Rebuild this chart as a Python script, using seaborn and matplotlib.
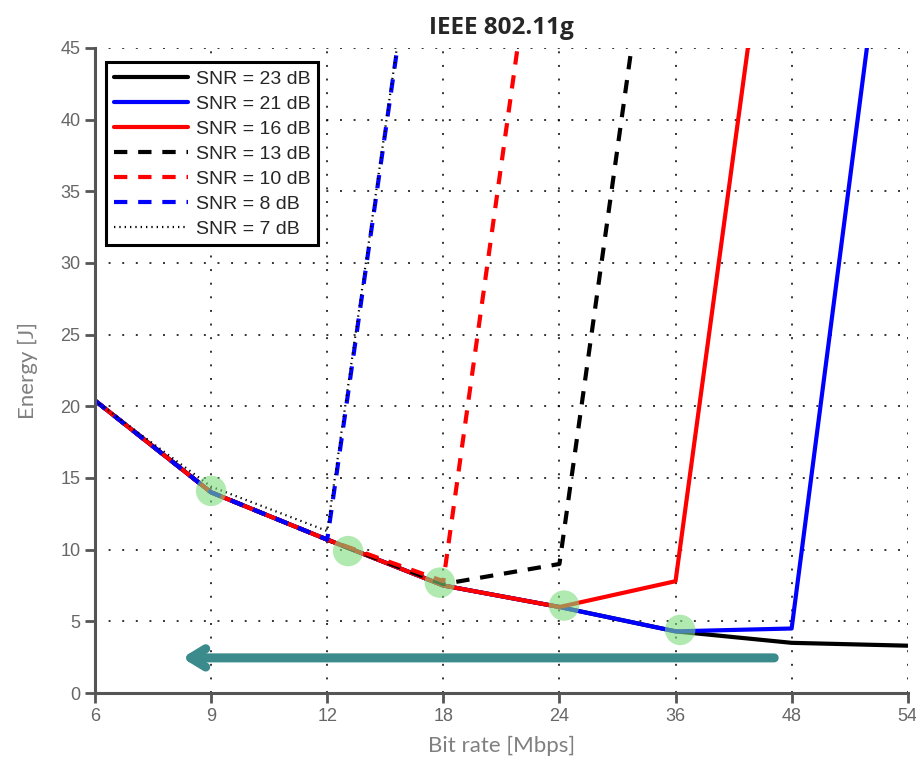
"""IEEE 802.11g energy vs bit rate for several SNR levels."""

import matplotlib
matplotlib.use("Agg")
import matplotlib.pyplot as plt
import pandas as pd
import seaborn as sns

bit_rates = ["6", "9", "12", "18", "24", "36", "48", "54"]

snr_23 = [20.4, 14.0, 10.7, 7.5, 6.0, 4.3, 3.5, 3.3]
snr_21 = [20.4, 14.0, 10.7, 7.5, 6.0, 4.3, 4.5, 67.0]
snr_16 = [20.4, 14.0, 10.7, 7.5, 6.0, 7.8, 67.5]
snr_13 = [20.4, 14.0, 10.7, 7.6, 9.0, 67.0]
snr_10 = [20.4, 14.0, 10.7, 7.8, 66.0]
snr_8 = [20.4, 14.0, 10.7, 67.5]
snr_7 = [20.4, 14.4, 11.3, 67.5]

labels = ["SNR = 23 dB", "SNR = 21 dB", "SNR = 16 dB", "SNR = 13 dB",
          "SNR = 10 dB", "SNR = 8 dB", "SNR = 7 dB"]
series = [snr_23, snr_21, snr_16, snr_13, snr_10, snr_8, snr_7]
colors = ["black", "#0000ff", "#ff0000", "black", "#ff0000", "#0000ff", "black"]
styles = ["-", "-", "-", (0, (3.2, 2.6)), (0, (3.2, 2.6)), (0, (3.2, 2.6)), (0, (0.6, 1.8))]
widths = [3.0, 3.0, 3.0, 3.0, 3.0, 3.0, 1.6]

# optimum points (x in tick-index units)
opt_x = [1.0, 2.18, 2.97, 4.04, 5.04]
opt_y = [14.1, 9.9, 7.7, 6.1, 4.4]

sns.set_theme(style="white")
plt.rcParams["font.family"] = ["Liberation Sans", "DejaVu Sans"]

fig = plt.figure(figsize=(9.16, 7.7), dpi=100)
ax = fig.add_axes([0.1037, 0.1, 0.8873, 0.8377])

for lab, vals, col, ls, lw in zip(labels, series, colors, styles, widths):
    df = pd.DataFrame({"x": range(len(vals)), "y": vals})
    sns.lineplot(data=df, x="x", y="y", ax=ax, color=col, linestyle=ls,
                 linewidth=lw, label=lab)

ax.scatter(opt_x, opt_y, s=480, color="#7ddc7d", alpha=0.6, edgecolor="none", zorder=5)

ax.annotate("", xy=(0.75, 2.45), xytext=(5.85, 2.45),
            arrowprops=dict(arrowstyle="->,head_length=0.9,head_width=0.55",
                            color="#3b8a8c", lw=6.5, shrinkA=0, shrinkB=0),
            zorder=6)

ax.set_xlim(0, len(bit_rates) - 1)
ax.set_ylim(0, 45)
ax.set_xticks(range(len(bit_rates)))
ax.set_xticklabels(bit_rates)
ax.set_yticks(range(0, 46, 5))

ax.grid(True, color="black", linestyle=(0, (1, 6)), linewidth=1.4, alpha=0.8)
for side in ["top", "right"]:
    ax.spines[side].set_visible(False)
for side in ["left", "bottom"]:
    ax.spines[side].set_color("#555555")
    ax.spines[side].set_linewidth(2.2)
ax.tick_params(axis="both", direction="out", length=7, width=2, color="#555555",
               labelsize=13, labelcolor="#666666", bottom=True, left=True)
for t in ax.get_xticklabels() + ax.get_yticklabels():
    t.set_fontfamily(["Liberation Sans Narrow", "Liberation Sans", "DejaVu Sans"])

ax.set_xlabel("Bit rate [Mbps]", fontsize=16, color="#808080",
              fontfamily=["Lato", "DejaVu Sans"], labelpad=8)
ax.set_ylabel("Energy [J]", fontsize=16, color="#808080",
              fontfamily=["Lato", "DejaVu Sans"], labelpad=16)
ax.set_title("IEEE 802.11g", fontsize=17.5, fontweight="bold",
             fontfamily=["Open Sans", "DejaVu Sans"], pad=10)

leg = ax.legend(loc="upper left", bbox_to_anchor=(0.014, 0.978), fontsize=14,
                frameon=True, fancybox=False, handlelength=3.8, borderpad=0.4,
                labelspacing=0.38, handletextpad=0.4, borderaxespad=0)
leg.get_frame().set_edgecolor("black")
leg.get_frame().set_linewidth(2.2)
leg.get_frame().set_alpha(1)

fig.savefig("out.png", dpi=100)
